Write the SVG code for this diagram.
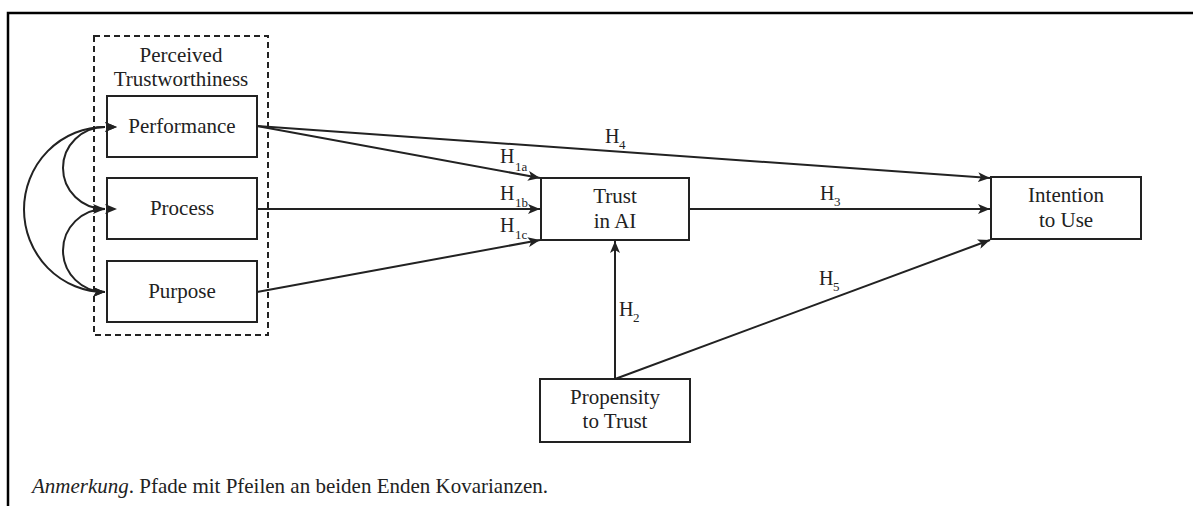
<svg xmlns="http://www.w3.org/2000/svg" width="1193" height="506" viewBox="0 0 1193 506">
<defs>
<style>
.box{fill:#fff;stroke:#222;stroke-width:2}
.lbl{font-family:"Liberation Serif","Times New Roman",serif;font-size:21px;fill:#222;text-anchor:middle}
.h{font-family:"Liberation Serif","Times New Roman",serif;font-size:20px;fill:#222}
.sub{font-size:13px}
.con{fill:none;stroke:#222;stroke-width:2}
</style>
<marker id="ah" viewBox="0 0 12 10" refX="12" refY="5" markerWidth="12" markerHeight="10" markerUnits="userSpaceOnUse" orient="auto">
<path d="M0,0 L12,5 L0,10 L3,5 Z" fill="#222"/>
</marker>
<marker id="ahs" viewBox="0 0 12 10" refX="0" refY="5" markerWidth="12" markerHeight="10" markerUnits="userSpaceOnUse" orient="auto-start-reverse">
<path d="M0,0 L12,5 L0,10 L3,5 Z" fill="#222"/>
</marker>
</defs>
<rect width="1193" height="506" fill="#fff"/>
<path d="M8,506 V13 H1193" fill="none" stroke="#000" stroke-width="2.5"/>

<g id="perceived-trustworthiness">
<rect x="94" y="36" width="174" height="299" fill="none" stroke="#222" stroke-width="2" stroke-dasharray="6 4"/>
<text class="lbl" x="181" y="62">Perceived</text>
<text class="lbl" x="181" y="86">Trustworthiness</text>
</g>
<g id="performance">
<rect class="box" x="107" y="96" width="150" height="61"/>
<text class="lbl" x="182" y="133">Performance</text>
</g>
<g id="process">
<rect class="box" x="107" y="178" width="150" height="61"/>
<text class="lbl" x="182" y="215">Process</text>
</g>
<g id="purpose">
<rect class="box" x="107" y="261" width="150" height="61"/>
<text class="lbl" x="182" y="298">Purpose</text>
</g>
<g id="trust-in-ai">
<rect class="box" x="541" y="178" width="148" height="62"/>
<text class="lbl" x="615" y="203">Trust</text>
<text class="lbl" x="615" y="228">in AI</text>
</g>
<g id="intention-to-use">
<rect class="box" x="991" y="177" width="150" height="62"/>
<text class="lbl" x="1066" y="202">Intention</text>
<text class="lbl" x="1066" y="227">to Use</text>
</g>
<g id="propensity-to-trust">
<rect class="box" x="540" y="379" width="150" height="63"/>
<text class="lbl" x="615" y="404">Propensity</text>
<text class="lbl" x="615" y="428">to Trust</text>
</g>

<g id="connectors">
<path class="con" d="M105,127 A81 82.5 0 0 0 105,292" marker-start="url(#ahs)" marker-end="url(#ah)"/>
<path class="con" d="M105,127 A42 41 0 0 0 105,209" marker-start="url(#ahs)" marker-end="url(#ah)"/>
<path class="con" d="M105,209 A42 41.5 0 0 0 105,292" marker-start="url(#ahs)" marker-end="url(#ah)"/>
<line class="con" x1="257" y1="126" x2="990" y2="178" marker-end="url(#ah)"/>
<line class="con" x1="257" y1="126" x2="540" y2="178" marker-end="url(#ah)"/>
<line class="con" x1="257" y1="209" x2="540" y2="209" marker-end="url(#ah)"/>
<line class="con" x1="257" y1="292" x2="540" y2="240" marker-end="url(#ah)"/>
<line class="con" x1="689" y1="209" x2="990" y2="209" marker-end="url(#ah)"/>
<line class="con" x1="615" y1="379" x2="615" y2="241" marker-end="url(#ah)"/>
<line class="con" x1="615" y1="379" x2="990" y2="240" marker-end="url(#ah)"/>
<text class="h"><tspan x="500" y="163">H</tspan><tspan class="sub" x="515" y="171">1a</tspan></text>
<text class="h"><tspan x="500" y="200">H</tspan><tspan class="sub" x="515" y="207">1b</tspan></text>
<text class="h"><tspan x="500" y="232">H</tspan><tspan class="sub" x="515" y="239">1c</tspan></text>
<text class="h"><tspan x="605" y="143">H</tspan><tspan class="sub" x="619" y="149">4</tspan></text>
<text class="h"><tspan x="820" y="200">H</tspan><tspan class="sub" x="834" y="206">3</tspan></text>
<text class="h"><tspan x="819" y="285">H</tspan><tspan class="sub" x="833" y="291">5</tspan></text>
<text class="h"><tspan x="619" y="316">H</tspan><tspan class="sub" x="633" y="322">2</tspan></text>
</g>

<text x="32" y="493" font-family="'Liberation Serif','Times New Roman',serif" font-size="21" fill="#222"><tspan font-style="italic">Anmerkung</tspan>. Pfade mit Pfeilen an beiden Enden Kovarianzen.</text>
</svg>
